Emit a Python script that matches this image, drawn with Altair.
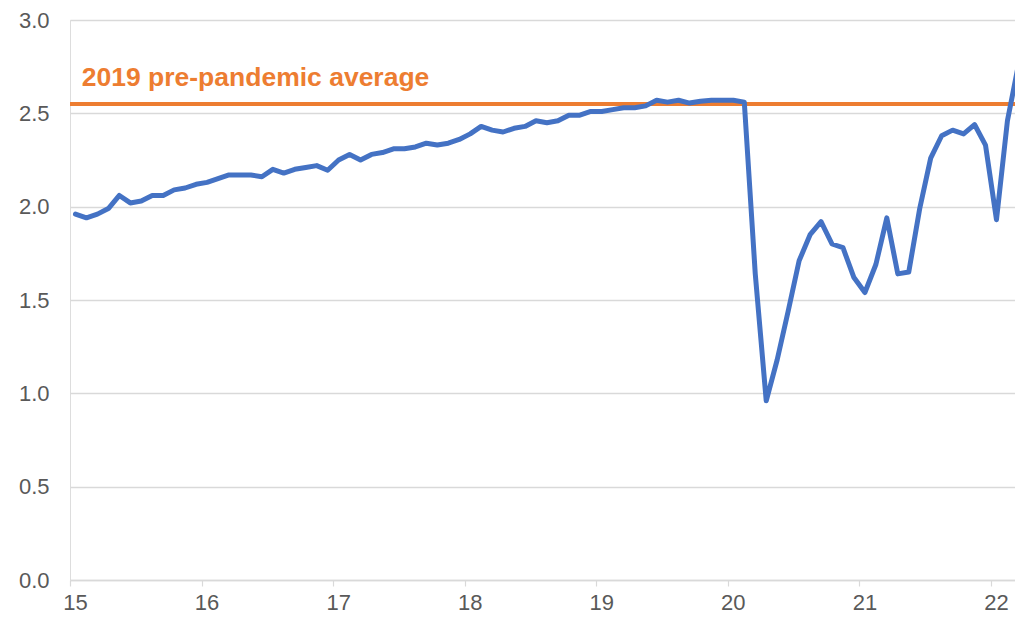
import altair as alt
import pandas as pd

# Monthly values, Jan 2015 .. Mar 2022
months = pd.date_range("2015-01-01", "2022-03-01", freq="MS").strftime("%Y-%m").tolist()
values = [
    1.96, 1.94, 1.96, 1.99, 2.06, 2.02, 2.03, 2.06, 2.06, 2.09, 2.10, 2.12,   # 2015
    2.13, 2.15, 2.17, 2.17, 2.17, 2.16, 2.20, 2.18, 2.20, 2.21, 2.22, 2.195,  # 2016
    2.25, 2.28, 2.25, 2.28, 2.29, 2.31, 2.31, 2.32, 2.34, 2.33, 2.34, 2.36,   # 2017
    2.39, 2.43, 2.41, 2.40, 2.42, 2.43, 2.46, 2.45, 2.46, 2.49, 2.49, 2.51,   # 2018
    2.51, 2.52, 2.53, 2.53, 2.54, 2.57, 2.56, 2.57, 2.555, 2.565, 2.57, 2.57, # 2019
    2.57, 2.56, 1.64, 0.96, 1.18, 1.44, 1.71, 1.85, 1.92, 1.80, 1.78, 1.62,   # 2020
    1.54, 1.69, 1.94, 1.64, 1.65, 1.99, 2.26, 2.38, 2.41, 2.39, 2.44, 2.33,   # 2021
    1.93, 2.46, 2.76,                                                         # 2022
]
avg_2019 = 2.55
avg_label = "2019 pre-pandemic average"
year_ticks = [15, 16, 17, 18, 19, 20, 21, 22]

df = pd.DataFrame({"month": months, "value": values})
yr = df["month"].str[:4].astype(int) - 2000
mo = df["month"].str[5:7].astype(int)
df["t"] = yr + (mo - 1 + 0.5) / 12.0

FONT = "Liberation Sans"
GREY = "#595959"
BLUE = "#4472C4"
ORANGE = "#ED7D31"

W = 945
xscale = alt.Scale(domain=[15, 15 + W / 131.57], nice=False, zero=False)
yscale = alt.Scale(domain=[0, 3.0], nice=False)

line = alt.Chart(df).mark_line(color=BLUE, strokeWidth=5, strokeJoin="round",
                               strokeCap="round", clip=True).encode(
    x=alt.X("t:Q", scale=xscale,
            axis=alt.Axis(values=year_ticks, format="d", title=None, grid=False,
                          domainColor="#d9d9d9", domainWidth=1.5, tickColor="#d9d9d9",
                          tickSize=6, tickWidth=1.2, labelFont=FONT, labelFontSize=22,
                          labelColor=GREY, labelPadding=6, labelOffset=5, labelFlush=False)),
    y=alt.Y("value:Q", scale=yscale,
            axis=alt.Axis(values=[0, 0.5, 1.0, 1.5, 2.0, 2.5, 3.0], format=".1f", title=None,
                          grid=True, gridColor="#d9d9d9", gridWidth=1.5, domain=False, ticks=False,
                          labelFont=FONT, labelFontSize=22, labelColor=GREY, labelPadding=21)),
)

avg_df = pd.DataFrame({"avg": [avg_2019]})
rule = alt.Chart(avg_df).mark_rule(color=ORANGE, strokeWidth=4).encode(
    y=alt.Y("avg:Q", scale=yscale)
)

label_df = pd.DataFrame({"x": [15.089], "y": [2.646], "text": [avg_label]})
label = alt.Chart(label_df).mark_text(
    color=ORANGE, font=FONT, fontSize=26.5, fontWeight="bold", align="left", baseline="alphabetic"
).encode(
    x=alt.X("x:Q", scale=xscale),
    y=alt.Y("y:Q", scale=yscale),
    text="text:N",
)

chart = alt.layer(rule, line, label).properties(
    width=W, height=560,
    autosize=alt.AutoSizeParams(type="none"),
    padding={"left": 62, "top": 12, "right": 0, "bottom": 40},
).configure_view(stroke=None).configure(background="white")

chart.save("out.html", embed_options={"renderer": "svg", "actions": False})
